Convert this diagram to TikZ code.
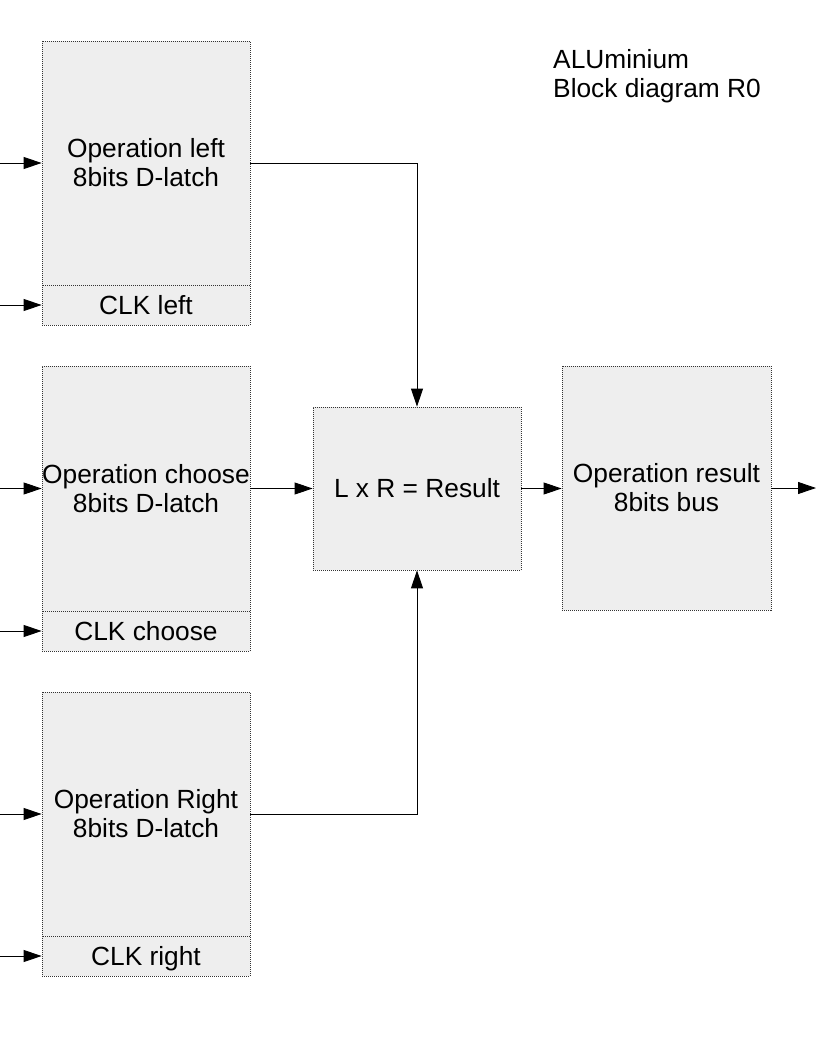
\documentclass[tikz,border=0pt]{standalone}
\usepackage{fontspec}
\setmainfont{Liberation Sans}
\usetikzlibrary{arrows.meta}
\definecolor{boxfill}{HTML}{EEEEEE}
\definecolor{boxline}{HTML}{333333}
\begin{document}
\begin{tikzpicture}[x=1pt,y=-1pt,
  blk/.style={draw=boxline, fill=boxfill, dash pattern=on 1pt off 1pt, line width=0.8pt,
    minimum width=208pt, inner sep=0pt, align=center,
    font=\fontsize{26.3}{29}\selectfont},
  clk/.style={blk, minimum height=40pt, text height=19pt, text depth=0pt},
  conn/.style={line width=0.9pt, -{Triangle[length=18pt,width=12pt]}}]
\useasboundingbox (0,0) rectangle (816,1056);
% left column
\node[blk, minimum height=244pt] (opl) at (146,163) {Operation left\\8bits D-latch};
\node[clk] (clkl) at (146,305) {CLK left};
\node[blk, minimum height=245pt] (opc) at (146,488.5) {Operation choose\\8bits D-latch};
\node[clk] (clkc) at (146,631) {CLK choose};
\node[blk, minimum height=244pt] (opr) at (146,814) {Operation Right\\8bits D-latch};
\node[clk] (clkr) at (146,956) {CLK right};
% middle and right
\node[blk, minimum height=163pt] (mid) at (417,488.5) {L x R = Result};
\node[blk, minimum height=244pt, minimum width=209pt] (res) at (666.5,488) {Operation result\\8bits bus};
% title
\node[anchor=north west, inner sep=0pt, align=left, font=\fontsize{26.3}{29}\selectfont] (title) at (553,49) {ALUminium\\Block diagram R0};
% inputs
\coordinate (i1) at (0,163);
\coordinate (i2) at (0,305);
\coordinate (i3) at (0,488.5);
\coordinate (i4) at (0,631);
\coordinate (i5) at (0,814);
\coordinate (i6) at (0,956);
\coordinate (out) at (816,488);
\draw[conn] (i1) -- (opl.west);
\draw[conn] (i2) -- (clkl.west);
\draw[conn] (i3) -- (opc.west);
\draw[conn] (i4) -- (clkc.west);
\draw[conn] (i5) -- (opr.west);
\draw[conn] (i6) -- (clkr.west);
\draw[conn] (opl.east) -| (mid.north);
\draw[conn] (opc.east) -- (mid.west);
\draw[conn] (opr.east) -| (mid.south);
\draw[conn] (mid.east) -- (mid.east -| res.west);
\draw[conn] (res.east) -- (out);
\end{tikzpicture}
\end{document}
